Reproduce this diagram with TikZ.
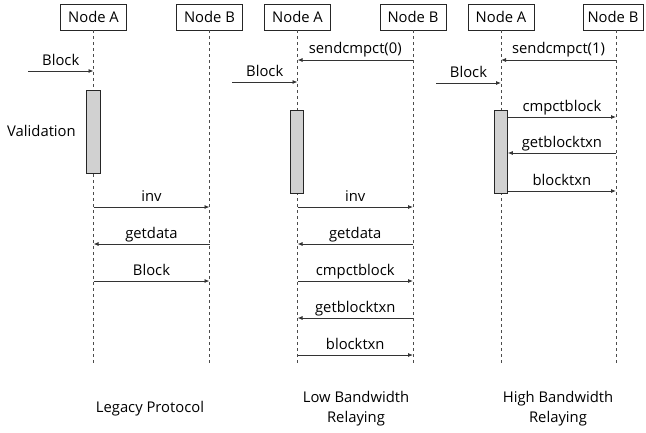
\documentclass[tikz,border=0pt]{standalone}
\usepackage{fontspec}
\setmainfont{Open Sans}
\usetikzlibrary{arrows.meta}
\tikzset{
  actor/.style={draw=black!85, line width=0.8pt, minimum width=66pt, minimum height=26pt, inner sep=0pt, font=\fontsize{14.8}{17}\selectfont},
  life/.style={draw=black!70, line width=0.8pt, dash pattern=on 3pt off 3pt},
  actbox/.style={draw=black!85, fill=black!18, line width=0.8pt},
  msg/.style={draw=black!80, line width=0.8pt, -{Latex[length=5pt,width=4pt]}},
  lbl/.style={font=\fontsize{14.8}{17}\selectfont, anchor=base, inner sep=0pt},
  captxt/.style={font=\fontsize{14.8}{20}\selectfont, align=center, inner sep=0pt},
}
\begin{document}
\begin{tikzpicture}[x=1pt,y=-1pt]
\useasboundingbox (0,0) rectangle (646,432);
% actors
\node[actor] (A1) at (93.5,17) {Node A};
\node[actor] (B1) at (209.5,17) {Node B};
\node[actor] (A2) at (297.5,17) {Node A};
\node[actor] (B2) at (413,17) {Node B};
\node[actor] (A3) at (501,17) {Node A};
\node[actor, minimum width=60pt] (B3) at (613,17) {Node B};
% lifeline ends
\coordinate (A1e) at (93.5,363);
\coordinate (B1e) at (209.5,363);
\coordinate (A2e) at (297.5,363);
\coordinate (B2e) at (413,363);
\coordinate (A3e) at (501,363);
\coordinate (B3e) at (616,363);
\draw[life] (A1.south) -- (A1e);
\draw[life] (B1.south) -- (B1e);
\draw[life] (A2.south) -- (A2e);
\draw[life] (B2.south) -- (B2e);
\draw[life] (A3.south) -- (A3e);
\draw[life] ([xshift=3pt]B3.south) -- (B3e);
% activation boxes
\node[actbox, minimum width=14pt, minimum height=83pt, inner sep=0pt] (V1) at (93.5,131.5) {};
\node[actbox, minimum width=13.5pt, minimum height=83pt, inner sep=0pt] (V2) at (297,151.5) {};
\node[actbox, minimum width=13.5pt, minimum height=83pt, inner sep=0pt] (V3) at (500.7,151.5) {};
\node[lbl, anchor=center] (val) at (41.5,131) {Validation};
% free ends
\coordinate (S1) at (28,71);
\coordinate (S2) at (232,82);
\coordinate (S3) at (436,83);
% panel 1
\draw[msg] (S1) -- (A1.south |- S1) node[lbl, midway, yshift=6pt] {Block};
\draw[msg] (A1.south |- 0,207) -- (B1.south |- 0,207) node[lbl, midway, yshift=5.5pt] {inv};
\draw[msg] (B1.south |- 0,244) -- (A1.south |- 0,244) node[lbl, midway, yshift=5.5pt] {getdata};
\draw[msg] (A1.south |- 0,281) -- (B1.south |- 0,281) node[lbl, midway, yshift=5.5pt] {Block};
% panel 2
\draw[msg] (B2.south |- 0,60) -- (A2.south |- 0,60) node[lbl, midway, yshift=6.5pt] {sendcmpct(0)};
\draw[msg] (S2) -- (A2.south |- S2) node[lbl, midway, yshift=6pt] {Block};
\draw[msg] (A2.south |- 0,207) -- (B2.south |- 0,207) node[lbl, midway, yshift=5.5pt] {inv};
\draw[msg] (B2.south |- 0,244) -- (A2.south |- 0,244) node[lbl, midway, yshift=5.5pt] {getdata};
\draw[msg] (A2.south |- 0,281) -- (B2.south |- 0,281) node[lbl, midway, yshift=5.5pt] {cmpctblock};
\draw[msg] (B2.south |- 0,318) -- (A2.south |- 0,318) node[lbl, midway, yshift=5.5pt] {getblocktxn};
\draw[msg] (A2.south |- 0,355) -- (B2.south |- 0,355) node[lbl, midway, yshift=5.5pt] {blocktxn};
% panel 3
\draw[msg] (B3e |- 0,60) -- (A3.south |- 0,60) node[lbl, midway, yshift=6.5pt] {sendcmpct(1)};
\draw[msg] (S3) -- (A3.south |- S3) node[lbl, midway, yshift=6pt] {Block};
\draw[msg] (V3.east |- 0,117) -- (B3e |- 0,117) node[lbl, midway, yshift=5.5pt] {cmpctblock};
\draw[msg] (B3e |- 0,153) -- (V3.east |- 0,153) node[lbl, midway, yshift=5.5pt] {getblocktxn};
\draw[msg] (V3.east |- 0,191) -- (B3e |- 0,191) node[lbl, midway, yshift=5.5pt] {blocktxn};
% captions
\node[captxt] (c1) at (150,409) {Legacy Protocol};
\node[captxt] (c2) at (356,409) {Low Bandwidth\\Relaying};
\node[captxt] (c3) at (558,409) {High Bandwidth\\Relaying};
\end{tikzpicture}
\end{document}
